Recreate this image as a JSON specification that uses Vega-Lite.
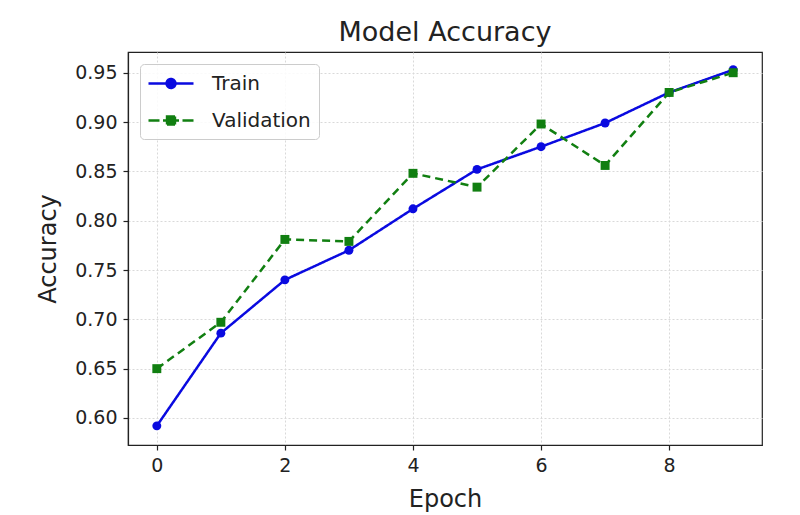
{
  "$schema": "https://vega.github.io/schema/vega-lite/v6.json",
  "width": 634,
  "height": 393,
  "autosize": {"type": "none"},
  "padding": {"left": 128, "top": 52, "right": 38, "bottom": 70},
  "background": "white",
  "title": {"text": "Model Accuracy", "fontSize": 27, "font": "DejaVu Sans", "fontWeight": "normal", "color": "#222222", "offset": 5},
  "data": {"values": [
    {"epoch": 0, "acc": 0.592, "series": "Train"},
    {"epoch": 1, "acc": 0.686, "series": "Train"},
    {"epoch": 2, "acc": 0.740, "series": "Train"},
    {"epoch": 3, "acc": 0.770, "series": "Train"},
    {"epoch": 4, "acc": 0.812, "series": "Train"},
    {"epoch": 5, "acc": 0.852, "series": "Train"},
    {"epoch": 6, "acc": 0.875, "series": "Train"},
    {"epoch": 7, "acc": 0.899, "series": "Train"},
    {"epoch": 8, "acc": 0.930, "series": "Train"},
    {"epoch": 9, "acc": 0.953, "series": "Train"},
    {"epoch": 0, "acc": 0.650, "series": "Validation"},
    {"epoch": 1, "acc": 0.697, "series": "Validation"},
    {"epoch": 2, "acc": 0.781, "series": "Validation"},
    {"epoch": 3, "acc": 0.779, "series": "Validation"},
    {"epoch": 4, "acc": 0.848, "series": "Validation"},
    {"epoch": 5, "acc": 0.834, "series": "Validation"},
    {"epoch": 6, "acc": 0.898, "series": "Validation"},
    {"epoch": 7, "acc": 0.856, "series": "Validation"},
    {"epoch": 8, "acc": 0.930, "series": "Validation"},
    {"epoch": 9, "acc": 0.950, "series": "Validation"}
  ]},
  "encoding": {
    "x": {"field": "epoch", "type": "quantitative",
      "scale": {"domain": [-0.45, 9.45], "nice": false, "zero": false},
      "axis": {"title": "Epoch", "values": [0, 2, 4, 6, 8], "format": "d"}},
    "y": {"field": "acc", "type": "quantitative",
      "scale": {"domain": [0.5726, 0.971], "nice": false, "zero": false},
      "axis": {"title": "Accuracy", "values": [0.6, 0.65, 0.7, 0.75, 0.8, 0.85, 0.9, 0.95], "format": ".2f"}},
    "color": {"field": "series", "type": "nominal",
      "scale": {"domain": ["Train", "Validation"], "range": ["#0a0ae0", "#117f11"]},
      "legend": {
        "title": null,
        "orient": "top-left",
        "offset": 12,
        "padding": 8,
        "fillColor": "rgba(255,255,255,0.85)",
        "strokeColor": "#cccccc",
        "cornerRadius": 4,
        "labelFont": "DejaVu Sans",
        "labelFontSize": 20,
        "labelColor": "#222222",
        "symbolSize": 400,
        "symbolStrokeWidth": 2.4,
        "rowPadding": 15,
        "labelOffset": 41,
        "encoding": {
          "symbols": {
            "shape": {"condition": {"test": "datum.value === 'Train'", "value": "M-1.1,0H3.4M0.7,0A0.45,0.45 0 1,0 1.6,0A0.45,0.45 0 1,0 0.7,0Z"}, "value": "M-1.1,0H0.0M0.35,0H1.95M2.3,0H3.4M0.75,-0.4H1.55V0.4H0.75Z"},
            "fill": {"condition": {"test": "datum.value === 'Train'", "value": "#0a0ae0"}, "value": "#117f11"},
            "stroke": {"condition": {"test": "datum.value === 'Train'", "value": "#0a0ae0"}, "value": "#117f11"},
            "strokeWidth": {"value": 2.4},
            "strokeDash": {"value": [1, 0]},
            "opacity": {"value": 1},
            "fillOpacity": {"value": 1},
            "strokeOpacity": {"value": 1}
          }
        }
      }}
  },
  "layer": [
    {"mark": {"type": "line", "strokeWidth": 2.5},
     "encoding": {
       "strokeDash": {"condition": {"test": "datum.series === 'Validation'", "value": [8, 5]}, "value": [1, 0]}
     }},
    {"mark": {"type": "point", "filled": true, "size": 80, "opacity": 1},
     "encoding": {
       "shape": {"condition": {"test": "datum.series === 'Validation'", "value": "square"}, "value": "circle"}
     }}
  ],
  "config": {
    "font": "DejaVu Sans",
    "view": {"stroke": "#222222", "strokeWidth": 1.2},
    "axis": {
      "labelFont": "DejaVu Sans", "labelFontSize": 19, "labelColor": "#222222",
      "titleFont": "DejaVu Sans", "titleFontSize": 24, "titleFontWeight": "normal", "titleColor": "#222222",
      "domainColor": "#222222", "domainWidth": 1.2, "tickColor": "#222222", "tickSize": 5, "tickWidth": 1.2,
      "gridColor": "#d9d9d9", "gridDash": [2, 2], "gridWidth": 1, "labelPadding": 6
    },
    "axisX": {"titlePadding": 12},
    "axisY": {"titlePadding": 14}
  }
}
